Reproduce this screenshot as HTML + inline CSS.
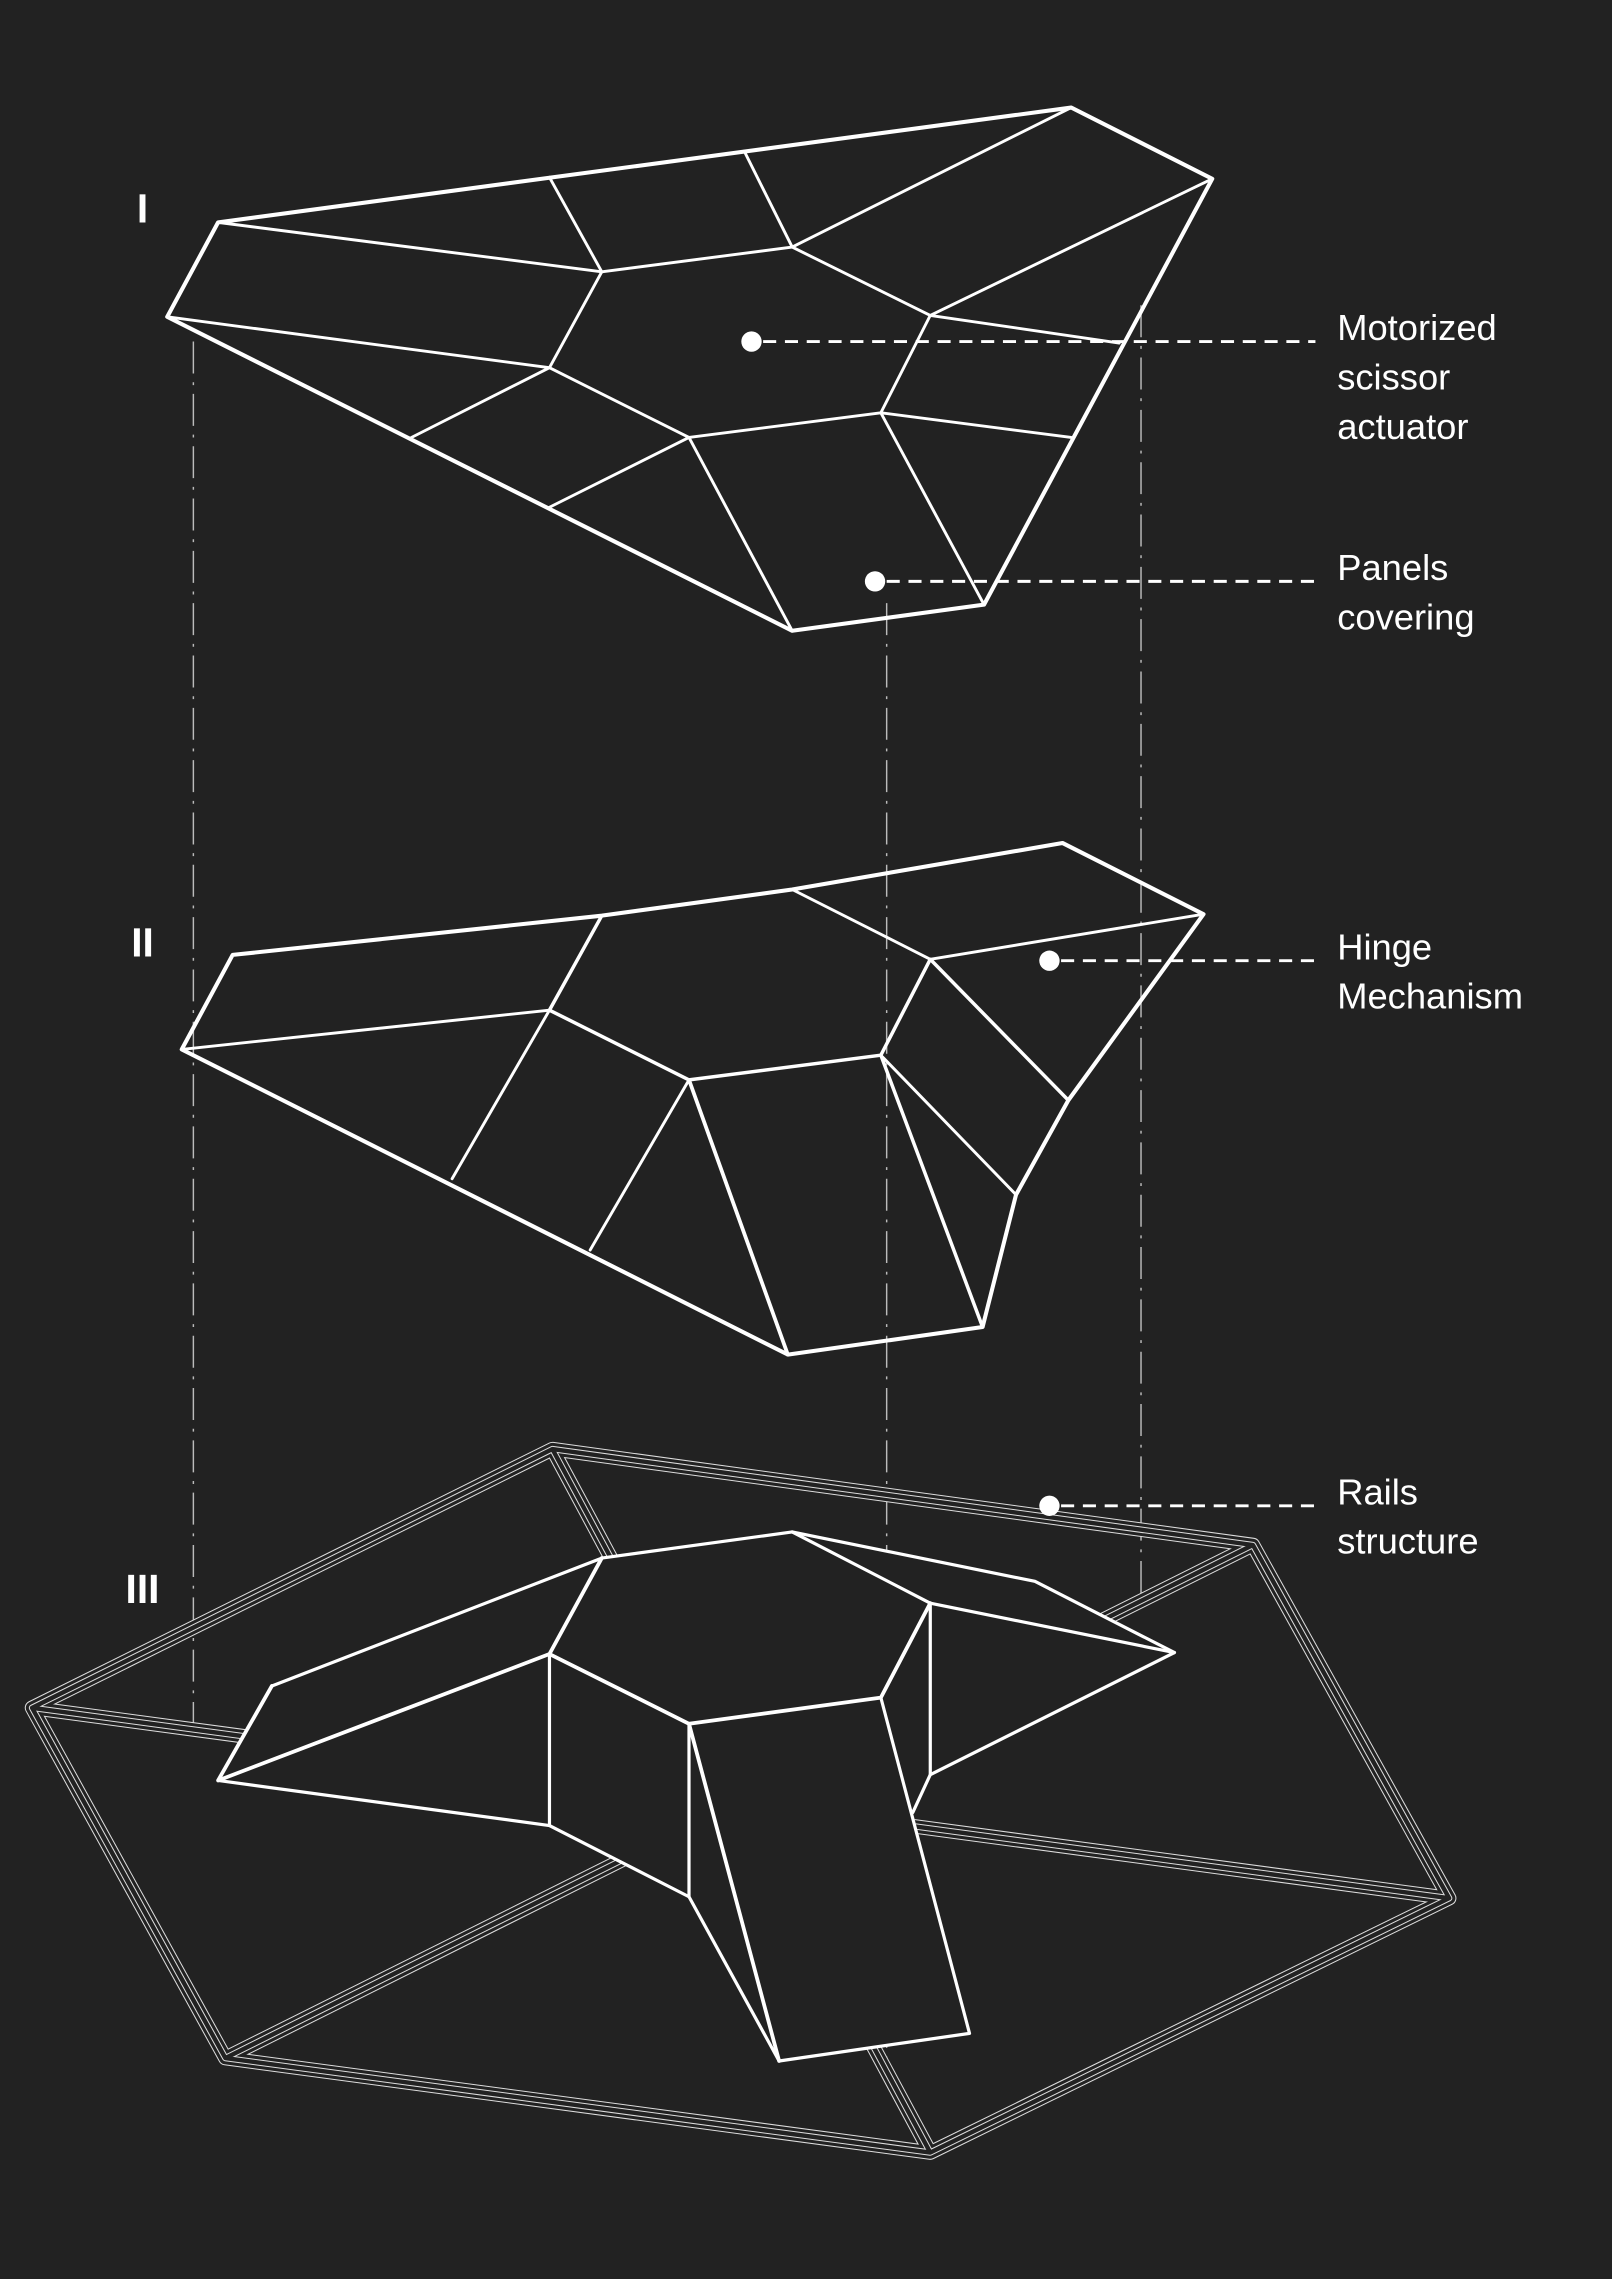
<!DOCTYPE html>
<html><head><meta charset="utf-8"><style>
html,body{margin:0;padding:0;background:#222222;}
svg{display:block;}
text{font-family:"Liberation Sans",sans-serif;fill:#fff;}
</style></head><body>
<svg width="1612" height="2279" viewBox="0 0 1109 1568" xmlns="http://www.w3.org/2000/svg">
<rect width="1109" height="1568" fill="#222222"/>
<g stroke="#bbb" stroke-width="1" stroke-dasharray="22,6,2,6" fill="none">
<line x1="133" y1="235" x2="133" y2="1190"/>
<line x1="610" y1="415" x2="610" y2="1420"/>
<line x1="785" y1="210" x2="785" y2="1100"/>
</g>
<g font-weight="bold" font-size="28" text-anchor="middle">
<text x="98" y="153">I</text>
<text x="98" y="658">II</text>
<text x="98" y="1103">III</text>
</g>
<g stroke="#fff" stroke-width="2" fill="none" stroke-linejoin="round" stroke-linecap="round">
<polygon points="150,153 737,74 834,123 677,416 545,434 115,218" stroke-width="2.8"/>
<polyline points="115,218 378,253"/>
<polyline points="150,153 414,187"/>
<polyline points="378,122 414,187 545,170 512,104"/>
<polyline points="545,170 640,217 834,123"/>
<polyline points="545,170 737,74"/>
<polyline points="414,187 378,253 474,301 606,284 640,217 770,236"/>
<polyline points="378,253 283,301"/>
<polyline points="474,301 378,349"/>
<polyline points="474,301 545,434"/>
<polyline points="606,284 737,301"/>
<polyline points="606,284 677,416"/>
</g>
<g stroke="#fff" stroke-width="2" fill="none" stroke-linejoin="round" stroke-linecap="round">
<polygon points="160,657 414,630 545,612 731,580 828,629 735,757 699,822 676,913 542,932 125,722" stroke-width="2.8"/>
<polyline points="545,612 640,660 828,629"/>
<polyline points="125,722 378,695"/>
<polyline points="414,630 378,695 474,743 606,726 640,660 735,757" stroke-width="2.4"/>
<polyline points="606,726 699,822"/>
<polyline points="606,726 676,913" stroke-width="2.4"/>
<polyline points="474,743 542,932" stroke-width="2.6"/>
<polyline points="378,695 311,811"/>
<polyline points="474,743 406,860"/>
</g>
<defs>
<g id="rails">
<polygon points="380,997 862,1063 997,1306 640,1481 155,1416 22,1175"/>
<line x1="22" y1="1175" x2="997" y2="1306"/>
<line x1="155" y1="1416" x2="862" y2="1063"/>
<line x1="380" y1="997" x2="640" y2="1481"/>
</g>
</defs>
<g fill="none" stroke-linejoin="round">
<use href="#rails" stroke="#ddd" stroke-width="10"/>
<use href="#rails" stroke="#222" stroke-width="8.6"/>
<use href="#rails" stroke="#ddd" stroke-width="4.4"/>
<use href="#rails" stroke="#222" stroke-width="3"/>
</g>
<polygon points="187,1160 414,1072 545,1054 712,1088 808,1137 640,1221 628,1247 667,1399 536,1418 474,1305 378,1256 150,1225" fill="#222"/>
<g stroke="#fff" stroke-width="2.2" fill="none" stroke-linejoin="round" stroke-linecap="round">
<polyline points="187,1160 414,1072 545,1054 712,1088 808,1137"/>
<polyline points="545,1054 640,1103 808,1137 640,1221 628,1247"/>
<polyline points="640,1103 606,1168 474,1186 378,1138 414,1072" stroke-width="2.6"/>
<polyline points="640,1103 640,1221"/>
<polyline points="378,1138 150,1225 187,1160" stroke-width="2.6"/>
<polyline points="150,1225 378,1256 474,1305 536,1418 667,1399 606,1168"/>
<polyline points="378,1138 378,1256"/>
<polyline points="474,1186 474,1305"/>
<polyline points="474,1186 536,1418" stroke-width="2.6"/>
</g>
<g stroke="#fff" stroke-width="2" stroke-dasharray="9,6">
<line x1="525" y1="235" x2="905" y2="235"/>
<line x1="610" y1="400" x2="905" y2="400"/>
<line x1="730" y1="661" x2="905" y2="661"/>
<line x1="730" y1="1036" x2="905" y2="1036"/>
</g>
<g fill="#fff">
<circle cx="517" cy="235" r="7"/>
<circle cx="602" cy="400" r="7"/>
<circle cx="722" cy="661" r="7"/>
<circle cx="722" cy="1036" r="7"/>
</g>
<g font-size="25">
<text x="920" y="234">Motorized</text>
<text x="920" y="268">scissor</text>
<text x="920" y="302">actuator</text>
<text x="920" y="399">Panels</text>
<text x="920" y="433">covering</text>
<text x="920" y="660">Hinge</text>
<text x="920" y="694">Mechanism</text>
<text x="920" y="1035">Rails</text>
<text x="920" y="1069">structure</text>
</g>
</svg>
</body></html>
